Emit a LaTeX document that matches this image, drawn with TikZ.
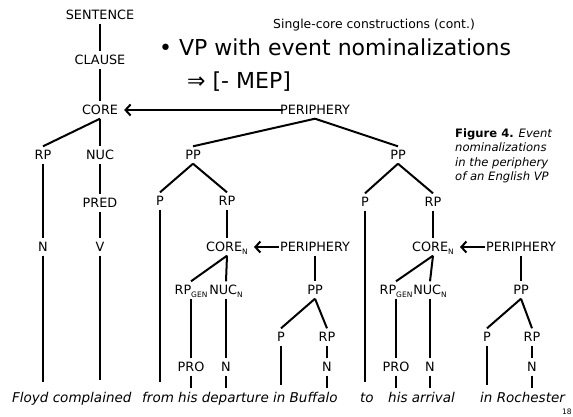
\documentclass[tikz,border=0pt]{standalone}
\usepackage{fontspec}
\setmainfont{DejaVu Sans}
\usetikzlibrary{arrows.meta}
% small lowered subscript used in category labels
\newcommand{\lsub}[1]{\raisebox{-0.45ex}{\fontsize{7.5}{7.5}\selectfont #1}}

\begin{document}
\begin{tikzpicture}[x=1pt,y=-1pt,
  lbl/.style={font=\fontsize{12.8}{13}\selectfont, inner xsep=1pt, inner ysep=4pt,
              text height=9pt, text depth=0pt},
  br/.style={line width=2pt},
  arr/.style={br, -{Straight Barb[length=5pt,width=11pt,line width=2pt]}, shorten >=5pt},
  word/.style={font=\fontsize{13.5}{14}\selectfont\itshape, anchor=base west, inner sep=0pt}]

\fill[white] (0,0) rectangle (573,416);
\useasboundingbox (0,0) rectangle (573,416);

% headings
\node[anchor=base west, inner sep=0pt, font=\fontsize{12.4}{13}\selectfont] (sub) at (273,28)
  {Single-core constructions (cont.)};
\node[anchor=base west, inner sep=0pt, font=\fontsize{22}{24}\selectfont] (t1) at (159,55)
  {\textbullet\ VP with event nominalizations};
\node[anchor=base west, inner sep=0pt, font=\fontsize{22}{24}\selectfont] (t2) at (187,88)
  {⇒ [- MEP]};

% caption
\node[anchor=north west, inner sep=0pt, align=left, font=\fontsize{11.6}{14.5}\selectfont] (cap) at (455,128)
  {\textbf{Figure 4.} \textit{Event}\\ \textit{nominalizations}\\ \textit{in the periphery}\\ \textit{of an English VP}};

% clause spine
\node[lbl] (s) at (100,15) {SENTENCE};
\node[lbl] (cl) at (100,60) {CLAUSE};
\node[lbl] (core) at (100,110) {CORE};
\node[lbl] (per) at (315,110) {PERIPHERY};

\node[lbl] (rp1) at (43,155) {RP};
\node[lbl] (nuc) at (100,155) {NUC};
\node[lbl] (pred) at (100,203) {PRED};
\node[lbl] (n1) at (43,247) {N};
\node[lbl] (v) at (100,247) {V};

\node[lbl] (pp1) at (193,155) {PP};
\node[lbl] (pp2) at (398,155) {PP};

% first PP
\node[lbl] (p1) at (160,201) {P};
\node[lbl] (rp2) at (227,201) {RP};
\node[lbl] (coren1) at (227,247) {CORE\lsub{N}};
\node[lbl] (per1) at (315,247) {PERIPHERY};
\node[lbl] (rpgen1) at (191,290) {RP\lsub{GEN}};
\node[lbl] (nucn1) at (226,290) {NUC\lsub{N}};
\node[lbl] (pro1) at (191,367) {PRO};
\node[lbl] (nn1) at (226,367) {N};
\node[lbl] (pp3) at (315,290) {PP};
\node[lbl] (p3) at (281,337) {P};
\node[lbl] (rp3) at (327,337) {RP};
\node[lbl] (nb1) at (327,367) {N};

% second PP
\node[lbl] (p2) at (365,202) {P};
\node[lbl] (rp4) at (433,202) {RP};
\node[lbl] (coren2) at (433,247) {CORE\lsub{N}};
\node[lbl] (per2) at (521,247) {PERIPHERY};
\node[lbl] (rpgen2) at (396,290) {RP\lsub{GEN}};
\node[lbl] (nucn2) at (430,290) {NUC\lsub{N}};
\node[lbl] (pro2) at (396,367) {PRO};
\node[lbl] (nn2) at (430,367) {N};
\node[lbl] (pp4) at (521,290) {PP};
\node[lbl] (p4) at (487,337) {P};
\node[lbl] (rp5) at (532,337) {RP};
\node[lbl] (nb2) at (532,367) {N};

% leaf attachment points
\coordinate (w-n1) at (43,382);
\coordinate (w-v) at (100,380);
\coordinate (w-p1) at (160,382);
\coordinate (w-pro1) at (191,388);
\coordinate (w-nn1) at (226,388);
\coordinate (w-p3) at (281,385);
\coordinate (w-nb1) at (327,388);
\coordinate (w-p2) at (365,382);
\coordinate (w-pro2) at (396,388);
\coordinate (w-nn2) at (430,388);
\coordinate (w-p4) at (487,385);
\coordinate (w-nb2) at (532,388);

% sentence words
\node[word] (sw1) at (12,402) {Floyd complained};
\node[word] (sw2) at (142,402) {from his departure in Buffalo};
\node[word] (sw3) at (360,402) {to};
\node[word] (sw4) at (388,402) {his arrival};
\node[word] (sw5) at (480,402) {in Rochester};
\node[anchor=base west, inner sep=0pt, font=\fontsize{7.5}{8}\selectfont] (pg) at (562,414) {18};

% branches
\draw[br] (s) -- (cl);
\draw[br] (cl) -- (core);
\draw[arr, shorten <=-4pt] (per) -- (core);
\draw[br] (core.south) -- (rp1.north);
\draw[br] (core.south) -- (nuc.north);
\draw[br] (per.south) -- (pp1.north);
\draw[br] (per.south) -- (pp2.north);
\draw[br] (rp1) -- (n1);
\draw[br] (n1) -- (w-n1);
\draw[br] (nuc) -- (pred);
\draw[br] (pred) -- (v);
\draw[br] (v) -- (w-v);

\draw[br] (pp1.south) -- (p1.north);
\draw[br] (pp1.south) -- (rp2.north);
\draw[br] (p1) -- (w-p1);
\draw[br] (rp2) -- (coren1);
\draw[arr] (per1) -- (coren1);
\draw[br] (coren1.south) -- (rpgen1.north);
\draw[br] (coren1.south) -- (nucn1.north);
\draw[br] (rpgen1.south -| pro1) -- (pro1);
\draw[br] (pro1) -- (w-pro1);
\draw[br] (nucn1) -- (nn1);
\draw[br] (nn1) -- (w-nn1);
\draw[br] (per1) -- (pp3);
\draw[br] (pp3.south) -- (p3.north);
\draw[br] (pp3.south) -- (rp3.north);
\draw[br] (p3) -- (w-p3);
\draw[br] (rp3) -- (nb1);
\draw[br] (nb1) -- (w-nb1);

\draw[br] (pp2.south) -- (p2.north);
\draw[br] (pp2.south) -- (rp4.north);
\draw[br] (p2) -- (w-p2);
\draw[br] (rp4) -- (coren2);
\draw[arr] (per2) -- (coren2);
\draw[br] (coren2.south) -- (rpgen2.north);
\draw[br] (coren2.south) -- (nucn2.north);
\draw[br] (rpgen2.south -| pro2) -- (pro2);
\draw[br] (pro2) -- (w-pro2);
\draw[br] (nucn2) -- (nn2);
\draw[br] (nn2) -- (w-nn2);
\draw[br] (per2) -- (pp4);
\draw[br] (pp4.south) -- (p4.north);
\draw[br] (pp4.south) -- (rp5.north);
\draw[br] (p4) -- (w-p4);
\draw[br] (rp5) -- (nb2);
\draw[br] (nb2) -- (w-nb2);
\end{tikzpicture}
\end{document}
